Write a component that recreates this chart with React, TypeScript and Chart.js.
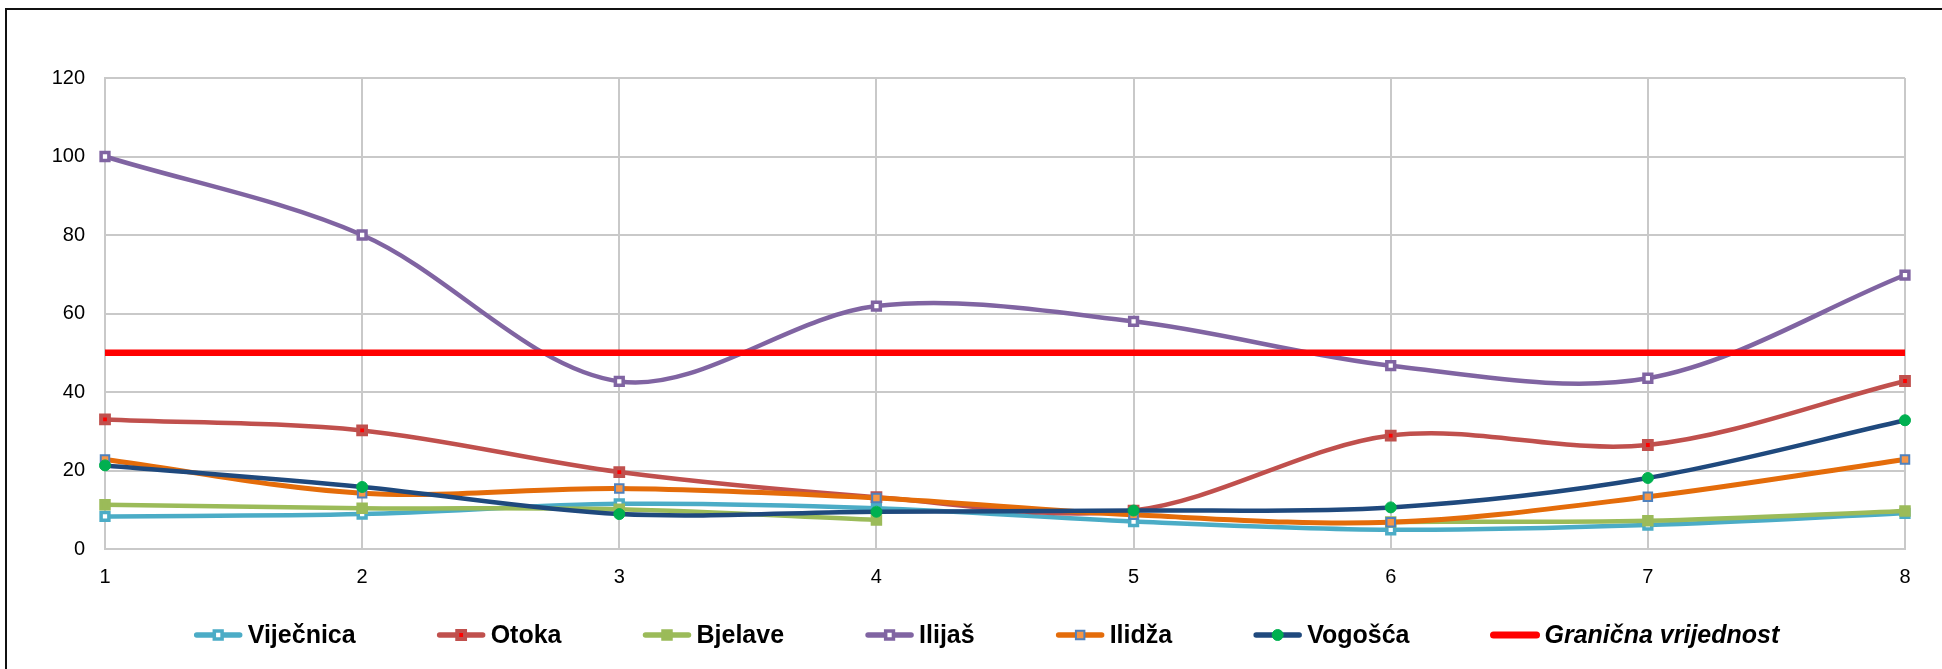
import React, { useEffect, useRef } from 'react';
import { Chart, registerables } from 'chart.js';

Chart.register(...registerables);

// ---- data ----
const categories = ['1', '2', '3', '4', '5', '6', '7', '8'];
const yTicks = [0, 20, 40, 60, 80, 100, 120];
const vijecnica = [8.3, 8.9, 11.5, 10.4, 7.0, 4.9, 6.1, 9.1];
const otoka = [33.0, 30.2, 19.6, 13.2, 9.8, 28.9, 26.5, 42.8];
const bjelave = [11.3, 10.4, 10.1, 7.4, null, 6.9, 7.2, 9.7];
const ilijas = [100, 80, 42.7, 61.9, 58.0, 46.7, 43.5, 69.8];
const ilidza = [22.8, 14.2, 15.4, 13.0, 8.7, 6.8, 13.3, 22.8];
const vogosca = [21.3, 15.8, 8.9, 9.5, 9.8, 10.6, 18.1, 32.8];
const granicna = [50, 50, 50, 50, 50, 50, 50, 50];

const seriesNames = ['Viječnica', 'Otoka', 'Bjelave', 'Ilijaš', 'Ilidža', 'Vogošća', 'Granična vrijednost'];
const seriesValues = [vijecnica, otoka, bjelave, ilijas, ilidza, vogosca, granicna];

// ---- styles ----
type Style = {
  line: string;
  lineWidth: number;
  marker: 'rect' | 'circle' | 'none';
  fill: string;
  stroke: string;
  markerBorder: number;
  radius: number;
  italic?: boolean;
};
const styles: Style[] = [
  { line: '#4BACC6', lineWidth: 4.5, marker: 'rect', fill: '#ffffff', stroke: '#4BACC6', markerBorder: 3.5, radius: 5.5 },
  { line: '#C0504D', lineWidth: 4.5, marker: 'rect', fill: '#ff0000', stroke: '#C0504D', markerBorder: 4, radius: 5.5 },
  { line: '#9BBB59', lineWidth: 4.5, marker: 'rect', fill: '#9BBB59', stroke: '#9BBB59', markerBorder: 3, radius: 6 },
  { line: '#8064A2', lineWidth: 4.5, marker: 'rect', fill: '#ffffff', stroke: '#8064A2', markerBorder: 3.5, radius: 5.5 },
  { line: '#E46C0A', lineWidth: 5, marker: 'rect', fill: '#F79646', stroke: '#4F81BD', markerBorder: 2, radius: 6 },
  { line: '#1F497D', lineWidth: 4.5, marker: 'circle', fill: '#00B050', stroke: '#00B050', markerBorder: 1, radius: 5.5 },
  { line: '#FF0000', lineWidth: 6.5, marker: 'none', fill: '#FF0000', stroke: '#FF0000', markerBorder: 0, radius: 0, italic: true },
];

const FONT = '"Liberation Sans", Arial, sans-serif';
const LEGEND_CENTER_X = 987;
const LEGEND_Y = 635;
const LEGEND_LINE = 47;
const LEGEND_TEXT_GAP = 6;
const LEGEND_SPACING = 82;

function drawMarker(ctx: CanvasRenderingContext2D, s: Style, x: number, y: number) {
  if (s.marker === 'none') return;
  ctx.save();
  ctx.fillStyle = s.fill;
  ctx.strokeStyle = s.stroke;
  ctx.lineWidth = s.markerBorder;
  if (s.marker === 'rect') {
    const h = s.radius * Math.SQRT1_2;
    ctx.beginPath();
    ctx.rect(x - h, y - h, 2 * h, 2 * h);
    ctx.fill();
    ctx.stroke();
  } else {
    ctx.beginPath();
    ctx.arc(x, y, s.radius, 0, Math.PI * 2);
    ctx.fill();
    ctx.stroke();
  }
  ctx.restore();
}

const legendPlugin = {
  id: 'excelLegend',
  afterDraw(chart: any) {
    const ctx: CanvasRenderingContext2D = chart.ctx;
    ctx.save();
    const fonts = styles.map((s) => `${s.italic ? 'italic ' : ''}bold 25px ${FONT}`);
    const widths = seriesNames.map((n, i) => {
      ctx.font = fonts[i];
      return LEGEND_LINE + LEGEND_TEXT_GAP + ctx.measureText(n).width;
    });
    const total = widths.reduce((a, b) => a + b, 0) + LEGEND_SPACING * (widths.length - 1);
    let x = LEGEND_CENTER_X - total / 2;
    seriesNames.forEach((name, i) => {
      const s = styles[i];
      ctx.beginPath();
      ctx.strokeStyle = s.line;
      ctx.lineWidth = s.italic ? 7 : 5.5;
      ctx.lineCap = 'round';
      ctx.moveTo(x + 2, LEGEND_Y);
      ctx.lineTo(x + LEGEND_LINE - 2, LEGEND_Y);
      ctx.stroke();
      drawMarker(ctx, s, x + LEGEND_LINE / 2, LEGEND_Y);
      ctx.font = fonts[i];
      ctx.fillStyle = '#000';
      ctx.textAlign = 'left';
      ctx.textBaseline = 'middle';
      ctx.fillText(name, x + LEGEND_LINE + LEGEND_TEXT_GAP, LEGEND_Y + 1);
      x += widths[i] + LEGEND_SPACING;
    });
    ctx.restore();
  },
};

export default function App() {
  const canvasRef = useRef<HTMLCanvasElement | null>(null);

  useEffect(() => {
    if (!canvasRef.current) return;
    const datasets = seriesNames.map((name, i) => {
      const s = styles[i];
      return {
        label: name,
        data: seriesValues[i],
        borderColor: s.line,
        backgroundColor: s.line,
        borderWidth: s.lineWidth,
        tension: 0.33,
        spanGaps: false,
        fill: false,
        order: 20 - i,
        pointStyle: s.marker === 'none' ? false : s.marker,
        pointRadius: s.radius,
        pointHoverRadius: s.radius,
        pointBackgroundColor: s.fill,
        pointBorderColor: s.stroke,
        pointBorderWidth: s.markerBorder,
      };
    });

    const gridColor = '#C9C9C9';
    const chart = new Chart(canvasRef.current, {
      type: 'line',
      data: { labels: categories, datasets: datasets as any },
      options: {
        animation: false,
        responsive: false,
        devicePixelRatio: 1,
        layout: { padding: { left: 0, right: 37, top: 78, bottom: 80 } },
        plugins: {
          legend: { display: false },
          tooltip: { enabled: false },
          title: { display: false },
        },
        scales: {
          x: {
            type: 'category',
            offset: false,
            grid: { color: gridColor, lineWidth: 2, drawTicks: false },
            border: { color: gridColor, width: 2 },
            ticks: {
              padding: 16,
              color: '#000',
              font: { family: FONT, size: 20 },
              maxRotation: 0,
            },
            afterFit: (scale: any) => {
              scale.height = 40;
            },
          },
          y: {
            type: 'linear',
            min: yTicks[0],
            max: yTicks[yTicks.length - 1],
            afterBuildTicks: (scale: any) => {
              scale.ticks = yTicks.map((v) => ({ value: v }));
            },
            grid: { color: gridColor, lineWidth: 2, drawTicks: false },
            border: { color: gridColor, width: 2 },
            ticks: {
              padding: 20,
              color: '#000',
              font: { family: FONT, size: 20 },
            },
            afterFit: (scale: any) => {
              scale.width = 105;
            },
          },
        },
      },
      plugins: [legendPlugin],
    });
    return () => chart.destroy();
  }, []);

  return (
    <div
      style={{
        position: 'absolute',
        left: 0,
        top: 0,
        width: 1942,
        height: 669,
        overflow: 'hidden',
        background: '#fff',
      }}
    >
      <div
        style={{
          position: 'absolute',
          left: 5,
          top: 8,
          width: 2100,
          height: 800,
          border: '2px solid #111',
          boxSizing: 'border-box',
        }}
      />
      <canvas
        ref={canvasRef}
        width={1942}
        height={669}
        style={{ position: 'absolute', left: 0, top: 0, width: 1942, height: 669 }}
      />
    </div>
  );
}
